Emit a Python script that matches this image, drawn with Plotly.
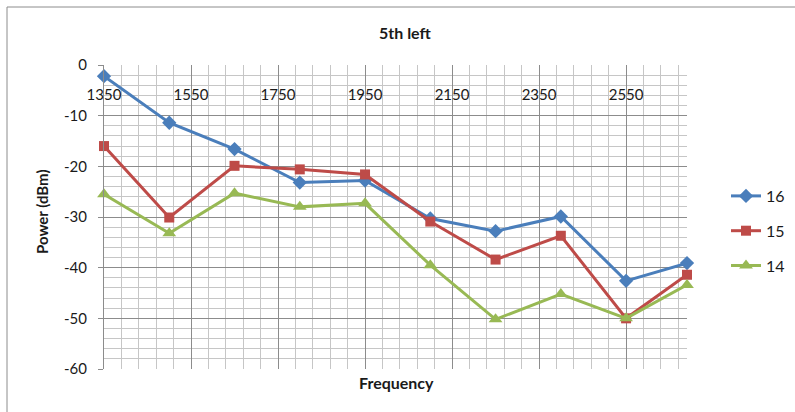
import plotly.graph_objects as go

# Frequency sweep points and measured power for each setting
frequency = [1350, 1500, 1650, 1800, 1950, 2100, 2250, 2400, 2550, 2690]
power_16 = [-2.2, -11.4, -16.6, -23.2, -22.8, -30.3, -32.8, -29.9, -42.6, -39.1]
power_15 = [-16.0, -30.1, -19.9, -20.6, -21.6, -30.9, -38.4, -33.7, -50.0, -41.4]
power_14 = [-25.5, -33.2, -25.3, -28.0, -27.3, -39.5, -50.2, -45.2, -50.0, -43.4]

# Axis tick labels (plain hyphen minus signs)
x_ticks = [1350, 1550, 1750, 1950, 2150, 2350, 2550]
y_ticks = [0, -10, -20, -30, -40, -50, -60]
y_tick_text = ["0", "-10", "-20", "-30", "-40", "-50", "-60"]

series = [
    ("16", power_16, "#4A7EBB", "diamond", 11),
    ("15", power_15, "#BE4B48", "square", 10),
    ("14", power_14, "#98B954", "triangle-up", 12),
]

FONT = "Lato, 'Open Sans', sans-serif"
TXT = "#1a1a1a"

fig = go.Figure()
for name, vals, color, symbol, size in series:
    fig.add_trace(go.Scatter(
        x=frequency, y=vals, name=name, mode="lines+markers",
        legendgroup=name,
        line=dict(color=color, width=3),
        marker=dict(symbol=symbol, size=size, color=color),
        cliponaxis=False,
    ))

# carrier for the frequency labels that sit inside the plot, under the 0 dBm line
fig.add_trace(go.Scatter(
    x=frequency, y=power_16, xaxis="x2", mode="none",
    showlegend=False, hoverinfo="skip",
))

W, H = 795, 412
L, R, T, B = 104, 687, 65, 369
pw, ph = R - L, B - T


def px(x):
    return (x - L) / pw


def py(y):
    return (B - y) / ph


fig.update_layout(
    width=W, height=H,
    margin=dict(l=L, r=W - R, t=T, b=H - B, autoexpand=False),
    paper_bgcolor="white", plot_bgcolor="white",
    font=dict(family=FONT, size=14, color=TXT),
    showlegend=True,
    legend=dict(
        x=px(726), y=py(231), xanchor="left", yanchor="middle",
        font=dict(size=16, family=FONT, color=TXT),
        tracegroupgap=11, itemwidth=30,
        bgcolor="rgba(0,0,0,0)",
    ),
    xaxis=dict(
        range=[1350, 2690],
        tick0=1350, dtick=200,
        showgrid=True, gridcolor="#8c8c8c", gridwidth=1,
        minor=dict(tick0=1350, dtick=40, showgrid=True,
                   gridcolor="#c6c6c6", gridwidth=1),
        ticks="", showticklabels=False,
        showline=False, zeroline=False, fixedrange=True,
    ),
    xaxis2=dict(
        range=[1350, 2690], overlaying="x", anchor="free", side="bottom",
        position=py(84),
        tickmode="array", tickvals=x_ticks,
        ticktext=[str(v) for v in x_ticks],
        showgrid=False, ticks="", showline=False, zeroline=False,
        tickfont=dict(size=15, family=FONT, color=TXT),
        ticklabelstandoff=0, fixedrange=True,
    ),
    yaxis=dict(
        range=[-60, 0],
        tickmode="array", tickvals=y_ticks, ticktext=y_tick_text,
        showgrid=True, gridcolor="#8c8c8c", gridwidth=1,
        minor=dict(tick0=0, dtick=2, showgrid=True, gridcolor="#c6c6c6", gridwidth=1),
        ticks="outside", ticklen=5, tickcolor="#8c8c8c",
        ticklabelstandoff=8,
        tickfont=dict(size=15, family=FONT, color=TXT),
        showline=True, linecolor="#8c8c8c", linewidth=1,
        zeroline=False, fixedrange=True,
    ),
    shapes=[dict(
        type="rect", xref="paper", yref="paper",
        x0=px(7), x1=px(900), y0=py(500), y1=py(7),
        line=dict(color="#8c8c8c", width=1), fillcolor="rgba(0,0,0,0)",
        layer="below",
    )],
    annotations=[
        dict(text="<b>5th left</b>", x=px(405), y=py(33), xref="paper", yref="paper",
             showarrow=False, font=dict(size=16, family=FONT, color=TXT),
             xanchor="center", yanchor="middle"),
        dict(text="<b>Power (dBm)</b>", x=px(42), y=py(212), xref="paper", yref="paper",
             showarrow=False, textangle=-90,
             font=dict(size=15, family=FONT, color=TXT),
             xanchor="center", yanchor="middle"),
        dict(text="<b>Frequency</b>", x=px(396), y=py(382), xref="paper", yref="paper",
             showarrow=False, font=dict(size=16, family=FONT, color=TXT),
             xanchor="center", yanchor="middle"),
    ],
)

fig.write_html("out.html")
